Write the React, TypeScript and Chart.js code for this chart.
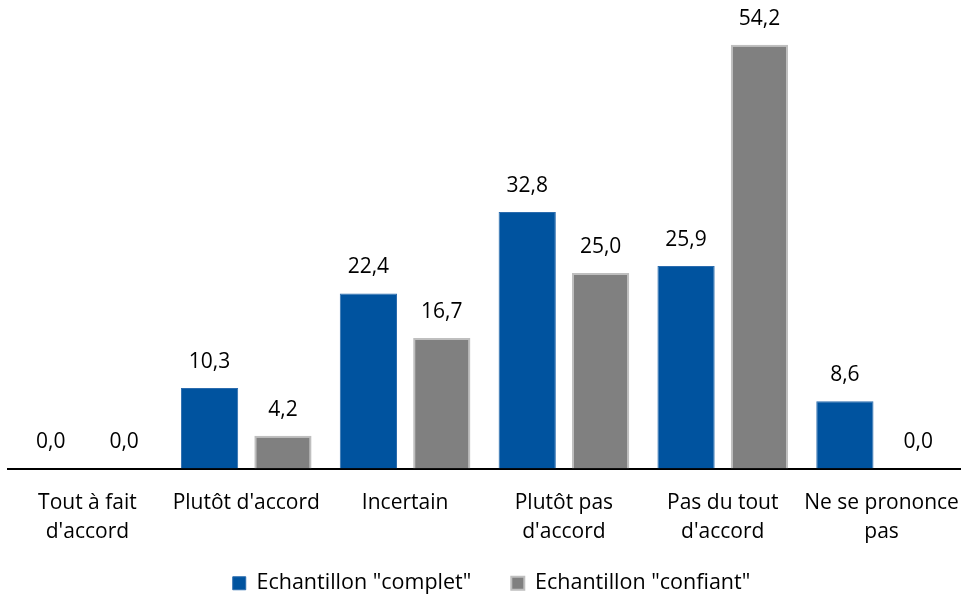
import React, { useEffect, useRef } from 'react';
import { Chart, registerables } from 'chart.js';

Chart.register(...registerables);

const categories: string[][] = [
  ['Tout à fait', "d'accord"],
  ["Plutôt d'accord"],
  ['Incertain'],
  ['Plutôt pas', "d'accord"],
  ['Pas du tout', "d'accord"],
  ['Ne se prononce', 'pas'],
];
const seriesNames = ['Echantillon "complet"', 'Echantillon "confiant"'];
const complet = [0.0, 10.3, 22.4, 32.8, 25.9, 8.6];
const confiant = [0.0, 4.2, 16.7, 25.0, 54.2, 0.0];

const FONT = '"Open Sans", Lato, sans-serif';

const valueLabels = {
  id: 'valueLabels',
  afterLayout(chart: any) {
    // let x tick labels extend below the (shortened) axis box without clipping
    const x = chart.scales.x;
    if (x) x.bottom = chart.height;
    const lg = chart.legend;
    if (lg) {
      lg.left += 7;
      lg.right += 7;
    }
  },
  afterDatasetsDraw(chart: any) {
    const ctx = chart.ctx;
    ctx.save();
    ctx.font = `21px ${FONT}`;
    ctx.fillStyle = '#000';
    ctx.textAlign = 'center';
    ctx.textBaseline = 'middle';
    chart.data.datasets.forEach((ds: any, i: number) => {
      const meta = chart.getDatasetMeta(i);
      meta.data.forEach((el: any, j: number) => {
        const v = ds.data[j] as number;
        const txt = v.toFixed(1).replace('.', ',');
        ctx.fillText(txt, el.x, el.y - 26);
      });
    });
    ctx.restore();
  },
};

export default function App() {
  const ref = useRef<HTMLCanvasElement | null>(null);
  useEffect(() => {
    if (!ref.current) return;
    const chart = new Chart(ref.current, {
      type: 'bar',
      data: {
        labels: categories,
        datasets: [
          {
            label: seriesNames[0],
            data: complet,
            backgroundColor: '#00539F',
            borderColor: '#2B6CAE',
            borderWidth: 1,
          },
          {
            label: seriesNames[1],
            data: confiant,
            backgroundColor: '#808080',
            borderColor: '#BFBFBF',
            borderWidth: 2,
          },
        ],
      },
      options: {
        responsive: false,
        animation: false,
        layout: { padding: { left: 8, right: 0, top: 19, bottom: -7 } },
        datasets: {
          bar: { categoryPercentage: 0.924, barPercentage: 0.78 },
        },
        scales: {
          x: {
            grid: { display: false },
            border: { display: true, color: '#000', width: 2 },
            afterFit: (scale: any) => {
              scale.paddingLeft = 0;
              scale.paddingRight = 0;
              scale.height = 64;
            },
            ticks: {
              color: '#000',
              font: { family: FONT, size: 21, lineHeight: 1.38 },
              padding: 12,
              maxRotation: 0,
              autoSkip: false,
            },
          },
          y: {
            display: false,
            min: 0,
            max: 57.5,
          },
        },
        plugins: {
          legend: {
            position: 'bottom',
            labels: {
              color: '#000',
              font: { family: FONT, size: 21.5 },
              boxWidth: 13,
              boxHeight: 13,
              padding: 40,
            },
          },
          tooltip: { enabled: false },
        },
      },
      plugins: [valueLabels],
    });
    return () => chart.destroy();
  }, []);
  return (
    <div style={{ position: 'fixed', left: 0, top: 0, width: 961, height: 597, background: '#fff' }}>
      <canvas ref={ref} width={961} height={597} style={{ width: 961, height: 597 }} />
    </div>
  );
}
